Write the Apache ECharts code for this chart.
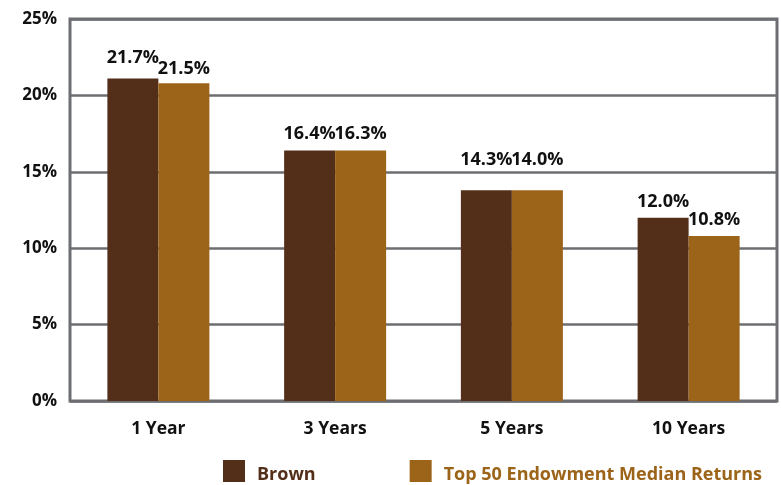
<!DOCTYPE html>
<html><head><meta charset="utf-8">
<script src="https://cdn.jsdelivr.net/npm/echarts@6/dist/echarts.min.js"></script>
<style>html,body{margin:0;padding:0;background:#fff}#c{width:781px;height:485px}</style>
</head><body><div id="c"></div>
<script>
const categories = ["1 Year", "3 Years", "5 Years", "10 Years"];
const seriesNames = ["Brown", "Top 50 Endowment Median Returns"];
const brownValues = [21.1, 16.4, 13.8, 12.0];
const top50Values = [20.8, 16.4, 13.8, 10.8];
const brownLabels = ["21.7%", "16.4%", "14.3%", "12.0%"];
const top50Labels = ["21.5%", "16.3%", "14.0%", "10.8%"];
const yTicks = ["0%", "5%", "10%", "15%", "20%", "25%"];

const colors = ["#532f1a", "#9c6418"];
const gridColor = "#6d6e71";
const font = "'Open Sans', 'DejaVu Sans', sans-serif";
const labelDist = [[12, 8, 21, 7], [5, 8, 21, 7]];

function mkSeries(idx, values, labels) {
  return {
    name: seriesNames[idx], type: 'bar', barWidth: 51, barGap: '0%',
    itemStyle: {color: colors[idx]},
    data: values.map((v, i) => ({
      value: v,
      label: {show: true, position: 'top', distance: labelDist[idx][i],
        formatter: labels[i], color: '#111', fontWeight: 'bold', fontSize: 18, lineHeight: 18, fontFamily: font}
    }))
  };
}

const chart = echarts.init(document.getElementById('c'));
chart.setOption({
  animation: false,
  grid: {left: 70, right: 4, top: 19, bottom: 84, show: true, borderColor: gridColor, borderWidth: 3, backgroundColor: 'transparent'},
  legend: {
    left: 223, top: 460, itemWidth: 22, itemHeight: 22, itemGap: 94,
    icon: 'rect', padding: 0,
    data: [
      {name: seriesNames[0], textStyle: {color: colors[0]}},
      {name: seriesNames[1], textStyle: {color: colors[1]}}
    ],
    formatter: (n) => '{t|' + n + '}',
    textStyle: {fontWeight: 'bold', fontSize: 18, fontFamily: font,
      rich: {t: {fontWeight: 'bold', fontSize: 18, fontFamily: font, padding: [8, 0, 0, 7]}}}
  },
  xAxis: {
    type: 'category', data: categories,
    axisLine: {show: false}, axisTick: {show: false},
    axisLabel: {color: '#111', fontWeight: 'bold', fontSize: 17.5, fontFamily: font, margin: 19}
  },
  yAxis: {
    type: 'value', min: 0, max: 25, interval: 5,
    axisLine: {show: false}, axisTick: {show: false},
    splitLine: {lineStyle: {color: gridColor, width: 2.5}},
    axisLabel: {color: '#111', fontWeight: 'bold', fontSize: 17, fontFamily: font, margin: 13,
      formatter: (v) => yTicks[Math.round(v / 5)], verticalAlign: 'middle', padding: [0, 0, 8, 0]}
  },
  series: [mkSeries(0, brownValues, brownLabels), mkSeries(1, top50Values, top50Labels)]
});
</script></body></html>
